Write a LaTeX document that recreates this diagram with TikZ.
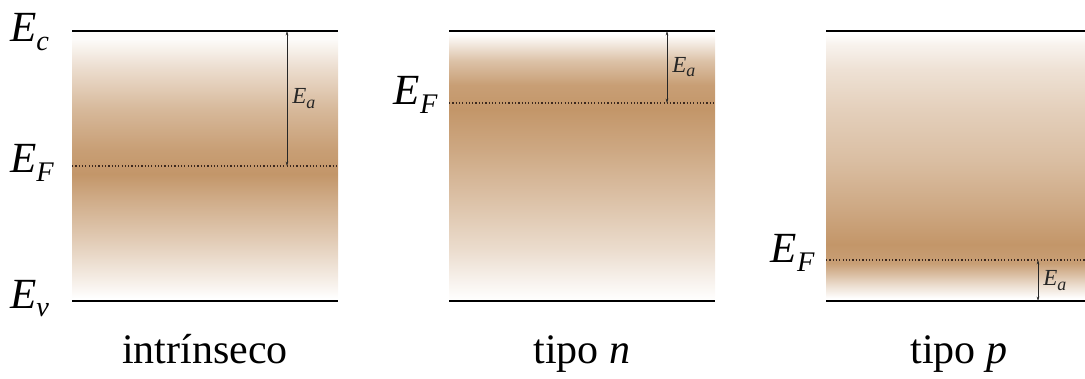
\documentclass[tikz,border=0pt]{standalone}
\usepackage{fontspec}
\setmainfont{Liberation Serif}
\usepackage{graphicx}
\usetikzlibrary{arrows.meta,positioning}
\definecolor{BandaMarrom}{RGB}{195,150,105}
\definecolor{FermiEscuro}{RGB}{60,40,30}
% sombreamentos das bandas (de baixo para cima, parte util entre 25bp e 75bp)
\pgfdeclareverticalshading{bandaintr}{100bp}{color(0bp)=(white); color(25.5bp)=(white);
  color(29bp)=(BandaMarrom!17); color(36.5bp)=(BandaMarrom!50); color(43.5bp)=(BandaMarrom!78);
  color(48.5bp)=(BandaMarrom); color(53bp)=(BandaMarrom!92); color(60.5bp)=(BandaMarrom!67);
  color(68bp)=(BandaMarrom!33); color(73.5bp)=(BandaMarrom!4); color(100bp)=(white)}
\pgfdeclareverticalshading{bandatipon}{100bp}{color(0bp)=(white); color(25bp)=(white);
  color(27.5bp)=(BandaMarrom!8); color(34.5bp)=(BandaMarrom!33); color(43.5bp)=(BandaMarrom!58);
  color(53bp)=(BandaMarrom!83); color(60.5bp)=(BandaMarrom); color(65bp)=(BandaMarrom!92);
  color(69.5bp)=(BandaMarrom!58); color(73bp)=(BandaMarrom!17); color(74.5bp)=(white); color(100bp)=(white)}
\pgfdeclareverticalshading{bandatipop}{100bp}{color(0bp)=(white); color(25.5bp)=(white);
  color(28bp)=(BandaMarrom!33); color(32bp)=(BandaMarrom!92); color(35.5bp)=(BandaMarrom);
  color(42bp)=(BandaMarrom!83); color(51bp)=(BandaMarrom!62); color(60.5bp)=(BandaMarrom!45);
  color(68bp)=(BandaMarrom!28); color(72.5bp)=(BandaMarrom!12); color(74.5bp)=(white); color(100bp)=(white)}
\newcommand{\nivel}[3][.66]{\textit{#2}\raisebox{-.2em}{\scalebox{#1}{\textit{#3}}}}
\tikzset{
  borda/.style={line width=1.4pt, black},
  fermi/.style={line width=1.2pt, FermiEscuro, dash pattern=on 1.2pt off 2.1pt},
  seta/.style={{Stealth[length=4.5pt,width=2.6pt]}-{Stealth[length=4.5pt,width=2.6pt]},
               line width=0.6pt, black!85},
  rotulo/.style={font=\fontsize{43}{44}\selectfont, inner sep=0pt},
  rotulopeq/.style={font=\fontsize{23}{24}\selectfont, inner sep=0pt},
  legenda/.style={font=\fontsize{42}{44}\selectfont, inner sep=0pt},
}

\begin{document}
\begin{tikzpicture}[x=1pt,y=1pt]
  \def\Ybot{77} \def\Ytop{347}
  \useasboundingbox (0,0) rectangle (1085,378);

  % Bandas sombreadas
  \shade[shading=bandaintr]  (72,\Ybot)  rectangle (338,\Ytop);
  \shade[shading=bandatipon] (449,\Ybot) rectangle (715,\Ytop);
  \shade[shading=bandatipop] (826,\Ybot) rectangle (1085,\Ytop);

  % Bordas das bandas (Ec e Ev)
  \foreach \xa/\xb/\n in {72/338/1, 449/715/2, 826/1085/3} {
    \coordinate (c\n w) at (\xa,\Ytop); \coordinate (c\n e) at (\xb,\Ytop);
    \coordinate (v\n w) at (\xa,\Ybot); \coordinate (v\n e) at (\xb,\Ybot);
    \draw[borda] (c\n w) -- (c\n e);
    \draw[borda] (v\n w) -- (v\n e);
  }

  % Niveis de Fermi
  \coordinate (f1w) at (72,212);  \coordinate (f1e) at (338,212);
  \coordinate (f2w) at (449,275); \coordinate (f2e) at (715,275);
  \coordinate (f3w) at (826,118); \coordinate (f3e) at (1085,118);
  \foreach \n in {1,2,3}
    \draw[fermi] (f\n w) -- (f\n e);

  % Energias de ativacao
  \coordinate (a1t) at (287,\Ytop); \coordinate (a1b) at (287,212);
  \coordinate (a2t) at (667,\Ytop); \coordinate (a2b) at (667,275);
  \coordinate (a3t) at (1038,118);  \coordinate (a3b) at (1038,\Ybot);
  \foreach \n in {1,2,3}
    \draw[seta] (a\n t) -- (a\n b)
      node[midway, right=5pt, rotulopeq] (ea\n) {\nivel[.78]{E}{a}};

  % Rotulos dos niveis
  \node[rotulo, anchor=base west] (ec)  at (10,336) {\nivel{E}{c}};
  \node[rotulo, anchor=base west] (ef1) at (10,205) {\nivel{E}{F}};
  \node[rotulo, anchor=base west] (ev)  at (10,70)  {\nivel{E}{v}};
  \node[rotulo, anchor=base east] (ef2) at (438,273) {\nivel{E}{F}};
  \node[rotulo, anchor=base east] (ef3) at (815,115) {\nivel{E}{F}};

  % Legendas
  \node[legenda, anchor=base] (leg1) at (205,15) {intrínseco};
  \node[legenda, anchor=base] (leg2) at (582,15) {tipo \textit{n}};
  \node[legenda, anchor=base] (leg3) at (959,15) {tipo \textit{p}};
\end{tikzpicture}
\end{document}
